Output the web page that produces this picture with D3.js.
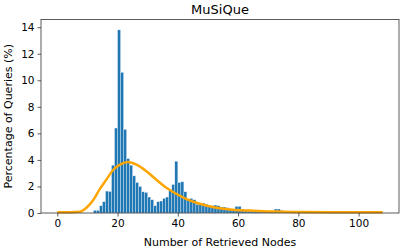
<!DOCTYPE html>
<html>
<head>
<meta charset="utf-8">
<script src="https://cdn.jsdelivr.net/npm/d3@7"></script>
<style>
  body { margin: 0; background: #fff; }
  text { font-family: "DejaVu Sans", sans-serif; fill: #000; }
</style>
</head>
<body>
<div class="chart"></div>
<script>
var svgWidth = 406;
var svgHeight = 251;

var margin = { top: 19.5, right: 7, bottom: 38, left: 41 };
var width = svgWidth - margin.left - margin.right;
var height = svgHeight - margin.top - margin.bottom;

// histogram bins (left edge, width 1) and percentage of queries
var binStarts = [12, 13, 14, 15, 16, 17, 18, 19, 20, 21, 22, 23, 24, 25, 26, 27, 28, 29,
  30, 31, 32, 33, 34, 35, 36, 37, 38, 39, 40, 41, 42, 43, 44, 45, 46, 47, 48, 49,
  50, 51, 52, 53, 54, 55, 56, 57, 58, 59, 60, 61, 62, 63, 64, 65, 66, 67, 68, 69,
  70, 71, 72, 73, 74, 77, 80, 83, 87, 93, 95, 99];
var binPercents = [0.2, 0.2, 0.55, 0.85, 1.65, 1.62, 3.6, 6.4, 13.8, 10.6, 6.3, 4.1, 3.6, 2.8, 2.3, 2.0, 1.6, 1.55,
  1.2, 1.0, 0.55, 0.85, 0.9, 1.1, 1.2, 1.7, 2.15, 3.9, 2.3, 2.35, 1.6, 1.0, 1.1, 1.0, 0.65, 0.75, 0.75, 0.65,
  0.5, 0.55, 0.6, 0.55, 0.45, 0.45, 0.4, 0.3, 0.25, 0.5, 0.5, 0.3, 0.2, 0.15, 0.15, 0.1, 0.1, 0.1,
  0.08, 0.08, 0.1, 0.1, 0.3, 0.3, 0.2, 0.05, 0.05, 0.05, 0.05, 0.05, 0.05, 0.05];

// fitted density curve
var curveX = [0, 7.5, 9.7, 12, 14.1, 16.4, 18.6, 20.8, 23.5, 26.3, 29.6, 32.9, 36.2, 39.6,
  42.9, 47.3, 52.8, 58.3, 63.9, 69.4, 75, 80.4, 91.5, 108];
var curveY = [0.05, 0.1, 0.4, 1.0, 1.8, 2.55, 3.26, 3.64, 3.84, 3.64, 3.14, 2.5, 1.9, 1.43,
  1.05, 0.7, 0.4, 0.25, 0.18, 0.12, 0.1, 0.07, 0.05, 0.05];

var xTicks = [0, 20, 40, 60, 80, 100];
var yTicks = [0, 2, 4, 6, 8, 10, 12, 14];

var svg = d3.select(".chart")
  .append("svg")
  .attr("width", svgWidth)
  .attr("height", svgHeight);

var chartGroup = svg.append("g")
  .attr("transform", `translate(${margin.left}, ${margin.top})`);

var xScale = d3.scaleLinear().domain([-5.4, 113.4]).range([0, width]);
var yScale = d3.scaleLinear().domain([0, 14.58]).range([height, 0]);

// bars
chartGroup.selectAll("rect.bar")
  .data(binStarts)
  .enter()
  .append("rect")
  .attr("class", "bar")
  .attr("x", d => xScale(d))
  .attr("width", d => xScale(d + 1) - xScale(d))
  .attr("y", (d, i) => yScale(binPercents[i]))
  .attr("height", (d, i) => height - yScale(binPercents[i]))
  .attr("fill", "#1f77b4")
  .attr("stroke", "#ffffff")
  .attr("stroke-opacity", 0.6)
  .attr("stroke-width", 0.5);

// density line
var line = d3.line()
  .x(d => xScale(d[0]))
  .y(d => yScale(d[1]))
  .curve(d3.curveMonotoneX);

chartGroup.append("path")
  .datum(curveX.map((x, i) => [x, curveY[i]]))
  .attr("d", line)
  .attr("fill", "none")
  .attr("stroke", "orange")
  .attr("stroke-width", 2.5);

// axes
var bottomAxis = d3.axisBottom(xScale).tickValues(xTicks).tickSize(3.5).tickPadding(3);
var leftAxis = d3.axisLeft(yScale).tickValues(yTicks).tickSize(3.5).tickPadding(3);

var xAxisG = chartGroup.append("g")
  .attr("transform", `translate(0, ${height})`)
  .call(bottomAxis);
var yAxisG = chartGroup.append("g")
  .call(leftAxis);

[xAxisG, yAxisG].forEach(function(g) {
  g.select(".domain").remove();
  g.selectAll("line").attr("stroke", "#333").attr("stroke-width", 0.8);
  g.selectAll("text").attr("font-size", "10.5px").attr("font-family", "DejaVu Sans").attr("fill", "#000");
});

// frame
chartGroup.append("rect")
  .attr("width", width)
  .attr("height", height)
  .attr("fill", "none")
  .attr("stroke", "#333")
  .attr("stroke-width", 0.8);

// title and labels
svg.append("text")
  .attr("x", margin.left + width / 2)
  .attr("y", 13.5)
  .attr("text-anchor", "middle")
  .attr("font-size", "13px")
  .text("MuSiQue");

svg.append("text")
  .attr("x", margin.left + width / 2)
  .attr("y", 246)
  .attr("text-anchor", "middle")
  .attr("font-size", "11px")
  .text("Number of Retrieved Nodes");

svg.append("text")
  .attr("transform", `translate(12, ${margin.top + height / 2}) rotate(-90)`)
  .attr("text-anchor", "middle")
  .attr("font-size", "11px")
  .text("Percentage of Queries (%)");
</script>
</body>
</html>
